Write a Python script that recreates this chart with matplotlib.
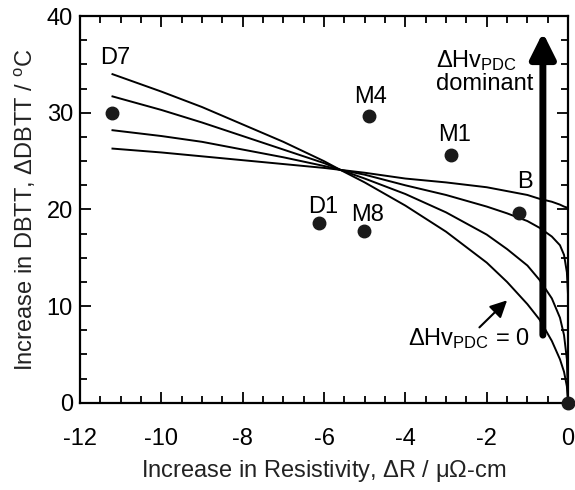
import matplotlib
matplotlib.use('Agg')
import matplotlib.pyplot as plt
from matplotlib.ticker import MultipleLocator

plt.rcParams['font.family'] = ['Liberation Sans', 'DejaVu Sans']
plt.rcParams['mathtext.fontset'] = 'custom'
plt.rcParams['mathtext.rm'] = 'Liberation Sans'
plt.rcParams['mathtext.it'] = 'Liberation Sans:italic'
plt.rcParams['axes.unicode_minus'] = False
plt.rcParams['font.size'] = 17

# measured alloys
names = ['D7', 'M4', 'M1', 'B', 'D1', 'M8', '']
dR = [-11.2, -4.9, -2.88, -1.2, -6.12, -5.02, 0.0]
dDBTT = [30.0, 29.7, 25.6, 19.6, 18.6, 17.8, 0.0]
label_x = [-11.14, -4.85, -2.78, -1.06, -6.03, -4.94]
label_y = [35.7, 31.6, 27.7, 22.8, 20.3, 19.4]

# model curves (flattest -> dHv_PDC = 0)
curve_x = [-11.2, -10, -9, -8, -7, -6, -5.6, -5, -4, -3, -2, -1.5, -1,
           -0.7, -0.4, -0.2, -0.1, -0.03, 0]
curve1 = [26.3, 25.9, 25.5, 25.1, 24.7, 24.3, 24.1, 23.8, 23.2, 22.8, 22.3,
          21.9, 21.5, 21.1, 20.8, 20.5, 20.3, 20.2, 20.1]
curve2 = [28.2, 27.6, 27.0, 26.2, 25.4, 24.5, 24.1, 23.6, 22.5, 21.5, 20.3,
          19.6, 18.8, 18.1, 17.2, 16.3, 15.3, 13.5, 11.0]
curve3 = [31.7, 30.3, 29.0, 27.6, 26.2, 24.8, 24.1, 23.2, 21.6, 19.7, 17.4,
          15.9, 14.2, 12.7, 10.8, 8.8, 7.0, 4.5, 0.0]
curve4 = [34.0, 32.2, 30.6, 28.8, 27.0, 25.0, 24.1, 22.8, 20.4, 17.7, 14.5,
          12.5, 10.2, 8.6, 6.4, 4.5, 3.2, 1.7, 0.0]

fig = plt.figure(figsize=(5.75, 4.9), dpi=100)
ax = fig.add_axes([0.139, 0.178, 0.849, 0.789])

for c in [curve1, curve2, curve3, curve4]:
    ax.plot(curve_x, c, color='black', lw=1.4)

ax.plot(dR, dDBTT, 'o', color='#1a1a1a', ms=9, clip_on=False, zorder=5)
for n, x, y in zip(names, label_x, label_y):
    ax.text(x, y, n, ha='center', va='center')

# dominant arrow
ax.annotate('', xy=(-0.62, 38.3), xytext=(-0.62, 7.0),
            arrowprops=dict(arrowstyle='-|>,head_length=0.9,head_width=0.45',
                            color='black', lw=5, shrinkA=0, shrinkB=0))
ax.text(-3.25, 35.4, r'$\Delta$Hv$_{\mathrm{PDC}}$', ha='left', va='center')
ax.text(-3.25, 33.0, 'dominant', ha='left', va='center')

# dHv_PDC = 0 label
ax.annotate('', xy=(-1.5, 10.6), xytext=(-2.18, 7.8),
            arrowprops=dict(arrowstyle='-|>,head_length=0.6,head_width=0.3',
                            color='black', lw=1.5, shrinkA=0, shrinkB=0))
ax.text(-2.45, 6.6, r'$\Delta$Hv$_{\mathrm{PDC}}$ = 0', ha='center', va='center')

ax.set_xlim(-12, 0)
ax.set_ylim(0, 40)
ax.xaxis.set_major_locator(MultipleLocator(2))
ax.xaxis.set_minor_locator(MultipleLocator(0.5))
ax.yaxis.set_major_locator(MultipleLocator(10))
ax.yaxis.set_minor_locator(MultipleLocator(2.5))
ax.tick_params(which='both', direction='in', top=True, right=True, width=1.3,
               labelsize=17, colors='black')
ax.tick_params(which='major', length=8)
ax.tick_params(which='minor', length=5)
ax.tick_params(axis='x', pad=18)
ax.tick_params(axis='y', pad=5)
for s in ax.spines.values():
    s.set_linewidth(1.6)

ax.set_xlabel(r'Increase in Resistivity, $\Delta$R / μΩ-cm', color='#222', labelpad=6)
ax.set_ylabel(r'Increase in DBTT, $\Delta$DBTT / $^{\mathrm{o}}$C', color='#222', labelpad=6)

fig.savefig('out.png', dpi=100)
